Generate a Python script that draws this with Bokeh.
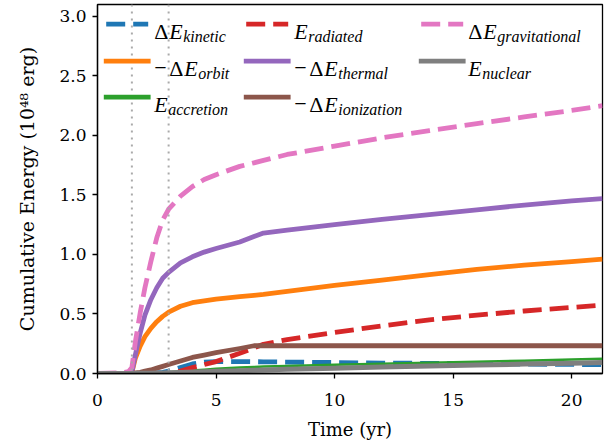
from bokeh.plotting import figure
from bokeh.models import Label, Arrow, Span, FixedTicker, Range1d
from bokeh.embed import file_html
from bokeh.resources import INLINE

# ---- data ----
time_yr = [0, 1.0, 1.3, 1.45, 1.6, 1.8, 2.0, 2.25, 2.5, 2.75, 3.0, 3.5, 4.0, 4.5, 5.0,
           6.0, 6.6, 7.0, 8.0, 10, 12, 14, 16, 18, 20, 21.3]

e_kinetic = [0, 0, 0, 0, 0, 0, 0, 0, 0.005, 0.01, 0.02, 0.05, 0.08, 0.095, 0.10,
             0.10, 0.099, 0.098, 0.096, 0.092, 0.088, 0.085, 0.082, 0.079, 0.076, 0.075]
e_orbit = [0, 0, 0, 0.01, 0.13, 0.23, 0.31, 0.38, 0.435, 0.48, 0.515, 0.565, 0.595, 0.61, 0.625,
           0.645, 0.657, 0.665, 0.69, 0.74, 0.785, 0.83, 0.875, 0.91, 0.94, 0.96]
e_accretion = [0, 0, 0, 0, 0, 0, 0, 0.002, 0.005, 0.008, 0.01, 0.018, 0.025, 0.032, 0.04,
               0.05, 0.055, 0.058, 0.063, 0.073, 0.082, 0.091, 0.099, 0.107, 0.117, 0.123]
e_radiated = [0, 0, 0, 0, 0, 0, 0, 0, 0, 0, 0, 0.02, 0.05, 0.075, 0.10,
              0.17, 0.215, 0.245, 0.285, 0.345, 0.40, 0.45, 0.49, 0.525, 0.555, 0.575]
e_thermal = [0, 0, 0, 0.01, 0.16, 0.34, 0.49, 0.62, 0.72, 0.80, 0.85, 0.93, 0.98, 1.02, 1.05,
             1.105, 1.15, 1.18, 1.205, 1.25, 1.295, 1.335, 1.375, 1.415, 1.45, 1.47]
e_ionization = [0, 0, 0, 0, 0.005, 0.01, 0.02, 0.03, 0.045, 0.06, 0.075, 0.105, 0.135, 0.155, 0.175,
                0.21, 0.233, 0.233, 0.233, 0.233, 0.233, 0.233, 0.233, 0.233, 0.233, 0.233]
e_gravitational = [0, 0.005, 0.015, 0.05, 0.27, 0.51, 0.72, 0.94, 1.14, 1.29, 1.38, 1.49, 1.57, 1.63, 1.67,
                   1.74, 1.77, 1.79, 1.84, 1.91, 1.98, 2.04, 2.10, 2.155, 2.21, 2.25]
e_nuclear = [0, 0, 0, 0, 0.001, 0.0015, 0.002, 0.003, 0.004, 0.005, 0.006, 0.009, 0.012, 0.015, 0.018,
             0.024, 0.027, 0.03, 0.035, 0.045, 0.054, 0.063, 0.071, 0.079, 0.087, 0.092]

marker_times = [1.45, 3.0]

x_ticks = [0, 5, 10, 15, 20]
x_tick_labels = ["0", "5", "10", "15", "20"]
y_ticks = [0.0, 0.5, 1.0, 1.5, 2.0, 2.5, 3.0]
y_tick_labels = ["0.0", "0.5", "1.0", "1.5", "2.0", "2.5", "3.0"]

x_label = "Time (yr)"
y_label = "Cumulative Energy (10\u2074\u2078 erg)"

# ---- figure ----
p = figure(width=606, height=442, output_backend="svg", toolbar_location=None,
           x_range=Range1d(0, 21.3), y_range=Range1d(0, 3.1),
           min_border_left=97, min_border_right=4, min_border_top=4, min_border_bottom=69)
p.grid.visible = False
p.background_fill_color = "white"
p.border_fill_color = "white"
p.outline_line_color = "black"
p.outline_line_width = 1.3
p.outline_line_alpha = 1.0

for ax in (p.xaxis[0], p.yaxis[0]):
    ax.major_label_text_font = "DejaVu Serif"
    ax.major_label_text_font_size = "17px"
    ax.major_label_text_color = "black"
    ax.axis_label_text_font = "DejaVu Serif"
    ax.axis_label_text_font_size = "18px"
    ax.axis_label_text_font_style = "normal"
    ax.axis_label_text_color = "black"
    ax.minor_tick_line_color = None
    ax.major_tick_in = 0
    ax.major_tick_out = 5
    ax.major_tick_line_width = 1.3
    ax.major_tick_line_color = "black"
    ax.axis_line_width = 1.3
    ax.axis_line_color = "black"

p.yaxis.axis_label_text_font_size = "19px"
p.xaxis.ticker = FixedTicker(ticks=x_ticks)
p.yaxis.ticker = FixedTicker(ticks=y_ticks)
p.xaxis.major_label_overrides = {t: s for t, s in zip(x_ticks, x_tick_labels)}
p.yaxis.major_label_overrides = {t: s for t, s in zip(y_ticks, y_tick_labels)}
p.xaxis.axis_label = x_label
p.yaxis.axis_label = y_label
p.xaxis.major_label_standoff = 15
p.xaxis.axis_label_standoff = 10
p.yaxis.major_label_standoff = 6
p.yaxis.axis_label_standoff = 18

for t in marker_times:
    p.add_layout(Span(location=t, dimension="height", line_color="#aaaaaa",
                      line_width=2, line_dash="2 5"))

DASH = "19 8"
series = [
    (e_kinetic, "#1f77b4", 4.8, DASH),
    (e_orbit, "#ff7f0e", 4.8, "solid"),
    (e_accretion, "#2ca02c", 2.5, "solid"),
    (e_radiated, "#d62728", 4.8, DASH),
    (e_thermal, "#9467bd", 4.8, "solid"),
    (e_ionization, "#8c564b", 4.8, "solid"),
    (e_gravitational, "#e377c2", 4.8, DASH),
    (e_nuclear, "#7f7f7f", 5.0, "solid"),
]
for vals, col, lw, dash in series:
    p.line(time_yr, vals, line_color=col, line_width=lw, line_dash=dash, line_join="round")

# ---- manual legend (screen units relative to the plot frame, y from bottom) ----
FX0 = 97.3    # picture x of frame left
FY0 = 373.3   # picture y of frame bottom

def sx(px):
    return px - FX0

def sy(py):
    return FY0 - py

handle_x = [(106, 148), (246, 288), (421, 463)]
handle_y = [24, 61, 97]
base_y = [31, 68, 104]

legend_items = [
    # col, row, color, width, dash, pieces [(text, x, kind)]
    (0, 0, "#1f77b4", 4.8, DASH, [("\u0394", 154, "up"), ("E", 169, "it"), ("kinetic", 183, "sub")]),
    (0, 1, "#ff7f0e", 4.8, "solid", [("\u2212", 154, "up"), ("\u0394", 169, "up"), ("E", 184, "it"), ("orbit", 198, "sub")]),
    (0, 2, "#2ca02c", 4.8, "solid", [("E", 154, "it"), ("accretion", 168, "sub")]),
    (1, 0, "#d62728", 4.8, DASH, [("E", 294, "it"), ("radiated", 308, "sub")]),
    (1, 1, "#9467bd", 4.8, "solid", [("\u2212", 294, "up"), ("\u0394", 309, "up"), ("E", 324, "it"), ("thermal", 338, "sub")]),
    (1, 2, "#8c564b", 4.8, "solid", [("\u2212", 294, "up"), ("\u0394", 309, "up"), ("E", 324, "it"), ("ionization", 338, "sub")]),
    (2, 0, "#e377c2", 4.8, DASH, [("\u0394", 468, "up"), ("E", 483, "it"), ("gravitational", 497, "sub")]),
    (2, 1, "#7f7f7f", 4.8, "solid", [("E", 468, "it"), ("nuclear", 482, "sub")]),
]

for col, row, color, lw, dash, pieces in legend_items:
    x0, x1 = handle_x[col]
    y = handle_y[row]
    p.add_layout(Arrow(end=None, x_start=sx(x0), y_start=sy(y), x_end=sx(x1), y_end=sy(y),
                       start_units="screen", end_units="screen",
                       line_color=color, line_width=lw, line_dash=dash,
                       line_cap="butt" if dash != "solid" else "square"))
    for text, px, kind in pieces:
        if kind == "sub":
            size, style, by = "16px", "italic", base_y[row] + 5
        elif kind == "it":
            size, style, by = "22px", "italic", base_y[row]
        else:
            size, style, by = "22px", "normal", base_y[row]
        p.add_layout(Label(x=sx(px), y=sy(by), x_units="screen", y_units="screen",
                           text=text, text_font="Liberation Serif", text_font_size=size,
                           text_font_style=style, text_color="black",
                           text_align="left", text_baseline="alphabetic"))

open("out.html", "w").write(file_html(p, INLINE))
